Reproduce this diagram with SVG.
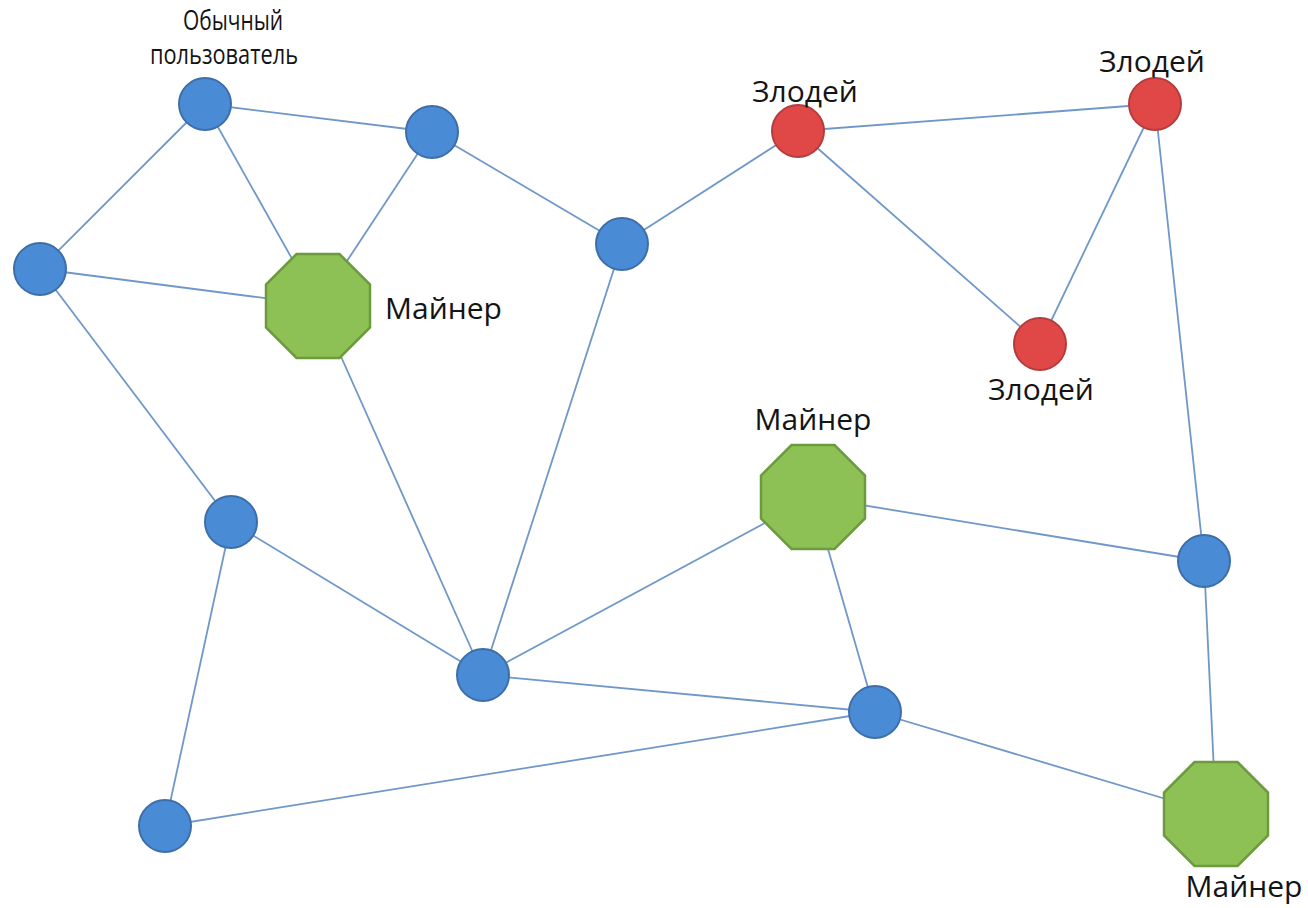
<svg xmlns="http://www.w3.org/2000/svg" width="1308" height="908" viewBox="0 0 1308 908">
<defs>
<style>
.e{stroke:#6f98c9;stroke-width:1.8;fill:none}
.u{fill:#4a8bd6;stroke:#3d6ea8;stroke-width:2}
.v{fill:#e04848;stroke:#b53c3c;stroke-width:2}
.m{fill:#8dc155;stroke:#6e9a3f;stroke-width:2.5}
.t{font-family:"Open Sans","Liberation Sans",sans-serif;font-size:30px;fill:#141414}
.s{font-size:27px}
</style>
<polygon id="oct" points="-21.5,-52 21.5,-52 52,-21.5 52,21.5 21.5,52 -21.5,52 -52,21.5 -52,-21.5"/>
</defs>
<rect width="1308" height="908" fill="#fff"/>
<g id="connectors" class="e">
<line x1="205" y1="104" x2="432" y2="132"/>
<line x1="205" y1="104" x2="40" y2="269"/>
<line x1="205" y1="104" x2="318" y2="305"/>
<line x1="432" y1="132" x2="318" y2="305"/>
<line x1="432" y1="132" x2="622" y2="244"/>
<line x1="40" y1="269" x2="318" y2="305"/>
<line x1="40" y1="269" x2="231" y2="522"/>
<line x1="622" y1="244" x2="798" y2="131"/>
<line x1="622" y1="244" x2="483" y2="675"/>
<line x1="798" y1="131" x2="1155" y2="104"/>
<line x1="798" y1="131" x2="1040" y2="344"/>
<line x1="1155" y1="104" x2="1040" y2="344"/>
<line x1="1155" y1="104" x2="1204" y2="561"/>
<line x1="318" y1="305" x2="483" y2="675"/>
<line x1="231" y1="522" x2="483" y2="675"/>
<line x1="231" y1="522" x2="165" y2="826"/>
<line x1="483" y1="675" x2="813" y2="497"/>
<line x1="483" y1="675" x2="875" y2="712"/>
<line x1="813" y1="497" x2="875" y2="712"/>
<line x1="813" y1="497" x2="1204" y2="561"/>
<line x1="1204" y1="561" x2="1216" y2="814"/>
<line x1="875" y1="712" x2="1216" y2="814"/>
<line x1="165" y1="826" x2="875" y2="712"/>
</g>
<g id="user"><circle class="u" cx="205" cy="104" r="26"/><text class="t s" x="233" y="30" text-anchor="middle" textLength="100" lengthAdjust="spacingAndGlyphs">Обычный</text><text class="t s" x="224" y="64" text-anchor="middle" textLength="148" lengthAdjust="spacingAndGlyphs">пользователь</text></g>
<g id="n2"><circle class="u" cx="432" cy="132" r="26"/></g>
<g id="n3"><circle class="u" cx="40" cy="269" r="26"/></g>
<g id="n4"><circle class="u" cx="622" cy="244" r="26"/></g>
<g id="n5"><circle class="u" cx="231" cy="522" r="26"/></g>
<g id="n6"><circle class="u" cx="483" cy="675" r="26"/></g>
<g id="n7"><circle class="u" cx="875" cy="712" r="26"/></g>
<g id="n8"><circle class="u" cx="1204" cy="561" r="26"/></g>
<g id="n9"><circle class="u" cx="165" cy="826" r="26"/></g>
<g id="villain1"><circle class="v" cx="798" cy="131" r="26"/><text class="t" x="805" y="102" text-anchor="middle">Злодей</text></g>
<g id="villain2"><circle class="v" cx="1155" cy="104" r="26"/><text class="t" x="1152" y="72" text-anchor="middle">Злодей</text></g>
<g id="villain3"><circle class="v" cx="1040" cy="344" r="26"/><text class="t" x="1041" y="400" text-anchor="middle">Злодей</text></g>
<g id="miner1"><use href="#oct" class="m" x="318" y="306"/><text class="t" x="385" y="319">Майнер</text></g>
<g id="miner2"><use href="#oct" class="m" x="813" y="497"/><text class="t" x="813" y="430" text-anchor="middle">Майнер</text></g>
<g id="miner3"><use href="#oct" class="m" x="1216" y="814"/><text class="t" x="1244" y="897" text-anchor="middle">Майнер</text></g>
</svg>
